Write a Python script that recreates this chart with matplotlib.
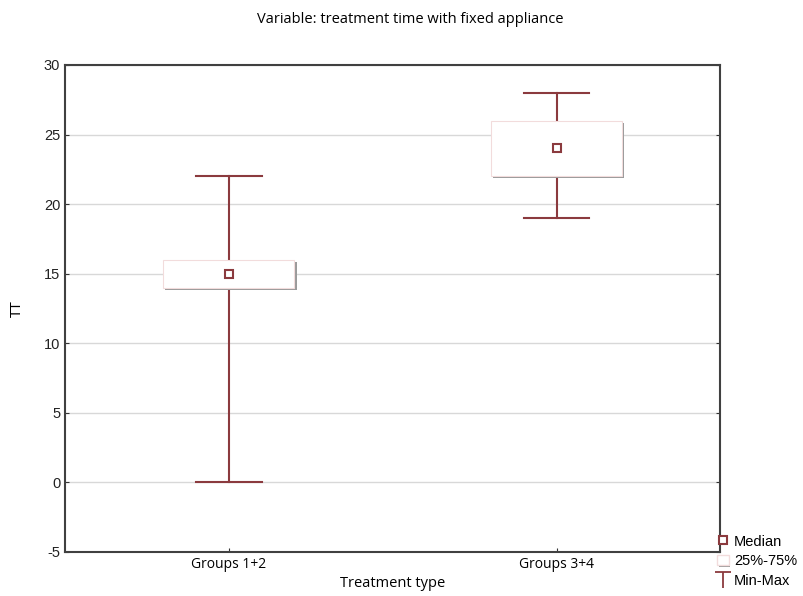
import matplotlib
matplotlib.use("Agg")
import matplotlib.pyplot as plt
import matplotlib.patheffects as pe
from matplotlib.lines import Line2D
from matplotlib.patches import Patch
from matplotlib.path import Path

# data
groups = ["Groups 1+2", "Groups 3+4"]
minimum = [0, 19]
q1 = [14, 22]
median = [15, 24]
q3 = [16, 26]
maximum = [22, 28]

dark_red = "#8b3a3e"
positions = list(range(1, len(groups) + 1))

plt.rcParams["axes.unicode_minus"] = False

fig = plt.figure(figsize=(8.04, 5.96), dpi=100)
ax = fig.add_axes([0.081, 0.074, 0.815, 0.817])

stats = [
    dict(whislo=lo, q1=a, med=m, q3=b, whishi=hi, fliers=[])
    for lo, a, m, b, hi in zip(minimum, q1, median, q3, maximum)
]
res = ax.bxp(
    stats,
    positions=positions,
    widths=0.4,
    capwidths=0.2,
    patch_artist=True,
    boxprops=dict(facecolor="white", edgecolor="#f2dcdc", linewidth=0.8),
    whiskerprops=dict(color=dark_red, linewidth=1.5),
    capprops=dict(color=dark_red, linewidth=1.5),
    medianprops=dict(linestyle="none"),
    manage_ticks=False,
    zorder=3,
)
for box in res["boxes"]:
    box.set_path_effects([
        pe.SimplePatchShadow(offset=(1.5, -1.5), shadow_rgbFace="#9a9a9a", alpha=1.0),
        pe.Normal(),
    ])
    box.set_zorder(4)

ax.plot(positions, median, linestyle="none", marker="s", markersize=6,
        markerfacecolor="white", markeredgecolor=dark_red, markeredgewidth=1.5,
        zorder=5)

ax.set_xlim(0.5, 2.5)
ax.set_ylim(-5, 30)
ax.set_yticks(range(-5, 31, 5))
ax.set_xticks(positions)
ax.set_xticklabels(groups, fontfamily="Open Sans", fontsize=10)
ax.yaxis.grid(True, color="#d8d8d8", linewidth=1.0, zorder=0)
ax.set_axisbelow(True)
ax.tick_params(axis="both", direction="in", length=3, color="#333333")
ax.tick_params(axis="y", right=True, labelsize=10.5, labelcolor="#222222")
for lbl in ax.get_yticklabels():
    lbl.set_fontfamily("Liberation Sans")
for sp in ax.spines.values():
    sp.set_color("#404040")
    sp.set_linewidth(1.5)

ax.set_xlabel("Treatment type", fontfamily="Open Sans", fontsize=10.5, labelpad=3)
ax.set_ylabel("TT", fontfamily="Open Sans", fontsize=11, labelpad=14)
fig.text(0.51, 0.968, "Variable: treatment time with fixed appliance",
         ha="center", va="center", fontfamily="Open Sans", fontsize=10.5)

# legend
t_marker = Path([(-1, 1), (1, 1), (0, 1), (0, -1)],
                [Path.MOVETO, Path.LINETO, Path.MOVETO, Path.LINETO])
handles = [
    Line2D([], [], linestyle="none", marker="s", markersize=6,
           markerfacecolor="white", markeredgecolor=dark_red, markeredgewidth=1.5),
    Patch(facecolor="white", edgecolor="#f2dcdc",
          path_effects=[pe.SimplePatchShadow(offset=(1, -1), shadow_rgbFace="#9a9a9a", alpha=1.0),
                        pe.Normal()]),
    Line2D([], [], linestyle="none", marker=t_marker, markersize=12,
           markeredgecolor=dark_red, markeredgewidth=1.3),
]
fig.legend(handles, ["Median", "25%-75%", "Min-Max"], loc="lower right",
           bbox_to_anchor=(1.004, -0.004), frameon=False, handlelength=0.8,
           handletextpad=0.35, labelspacing=0.4, borderpad=0.2,
           prop=dict(family="Liberation Sans", size=10.5))

fig.savefig("out.png", dpi=100)
